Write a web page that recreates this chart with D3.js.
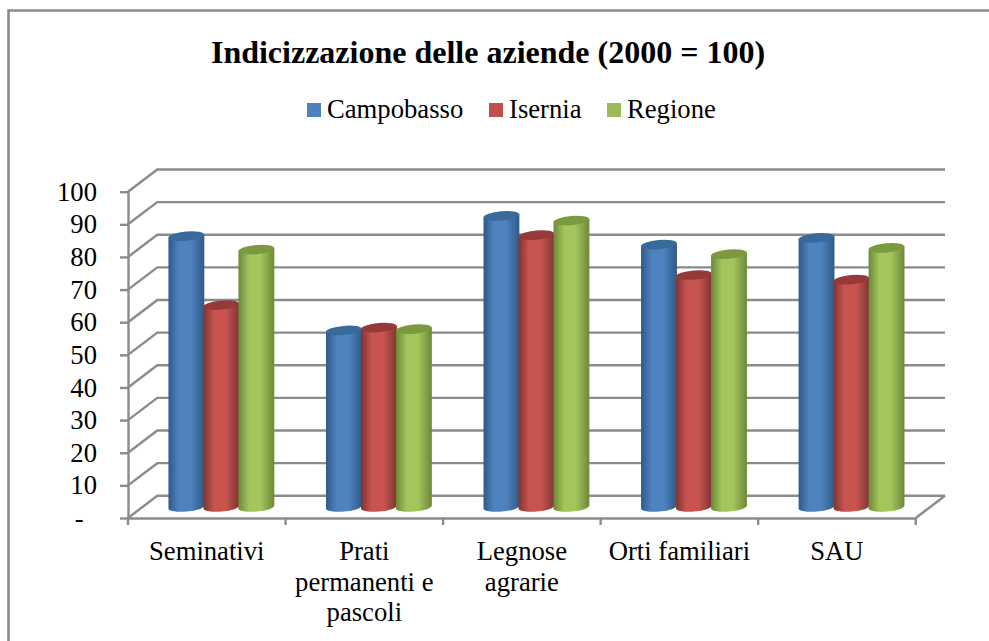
<!DOCTYPE html>
<html>
<head>
<meta charset="utf-8">
<script src="https://cdnjs.cloudflare.com/ajax/libs/d3/7.8.5/d3.min.js"></script>
<style>
  html, body { margin: 0; padding: 0; background: #fff; }
  svg { display: block; }
  text { font-family: "Liberation Serif", serif; fill: #000; }
</style>
</head>
<body>
<svg id="chart" width="989" height="641"></svg>
<script>
// Values
const categories = ["Seminativi", "Prati permanenti e pascoli", "Legnose agrarie", "Orti familiari", "SAU"];
const categoryLines = [["Seminativi"], ["Prati", "permanenti e", "pascoli"], ["Legnose", "agrarie"], ["Orti familiari"], ["SAU"]];
const seriesNames = ["Campobasso", "Isernia", "Regione"];
const campobasso = [83.0, 54.1, 89.2, 80.4, 82.5];
const isernia = [61.9, 55.0, 83.3, 71.1, 69.7];
const regione = [78.9, 54.5, 87.8, 77.5, 79.4];
const seriesValues = [campobasso, isernia, regione];
const yTicks = [0, 10, 20, 30, 40, 50, 60, 70, 80, 90, 100];
const seriesColors = [
  { edge: "#2f5a88", mid: "#4f83c0", top: "#386a9c", key: "#4f81bd" },
  { edge: "#7f3533", mid: "#c9544f", top: "#953a38", key: "#c0504d" },
  { edge: "#6d8839", mid: "#a2c55c", top: "#7b9a40", key: "#9bbb59" }
];

const svg = d3.select("#chart");
const GRID = "#8b8b8b";

// plot box: front plane plus the shift to the back wall
const front = { left: 128, right: 915.7, top: 191.7, bottom: 518 };
const depth = { x: 29.3, y: -22.2 };
const barShift = { x: 14.6, y: -11 };
const barW = 36;

const y = d3.scaleLinear().domain([0, 100]).range([front.bottom, front.top]);
const x = d3.scaleBand().domain(categories).range([front.left, front.right]);
const xSeries = d3.scaleBand().domain(seriesNames).range([-52.5, 52.5]);

// chart frame, cut off by the picture on the right and at the bottom
svg.append("path")
  .attr("d", "M8.5,641V10.5H989")
  .attr("fill", "none")
  .attr("stroke", GRID)
  .attr("stroke-width", 2.6);

svg.append("text")
  .attr("x", 488)
  .attr("y", 63)
  .attr("text-anchor", "middle")
  .style("font-size", "32px")
  .style("font-weight", "bold")
  .text("Indicizzazione delle aziende (2000 = 100)");

// legend
const legendSwatch = [307, 489, 607];
const legend = svg.append("g").selectAll("g")
  .data(seriesNames)
  .join("g")
  .attr("transform", (d, i) => `translate(${legendSwatch[i]},103)`);
legend.append("rect")
  .attr("width", 14)
  .attr("height", 14)
  .attr("fill", (d, i) => seriesColors[i].key);
legend.append("text")
  .attr("x", 20)
  .attr("y", 15)
  .style("font-size", "26.67px")
  .text(d => d);

// gradients for the cylinders
const defs = svg.append("defs");
seriesColors.forEach((c, i) => {
  const g = defs.append("linearGradient").attr("id", "cyl" + i);
  g.append("stop").attr("offset", "0%").attr("stop-color", c.edge);
  g.append("stop").attr("offset", "30%").attr("stop-color", c.mid);
  g.append("stop").attr("offset", "62%").attr("stop-color", c.mid);
  g.append("stop").attr("offset", "100%").attr("stop-color", c.edge);
});

// walls and floor
const gridG = svg.append("g")
  .attr("fill", "none")
  .attr("stroke", GRID)
  .attr("stroke-width", 2.4);
gridG.selectAll("path.wall")
  .data(yTicks)
  .join("path")
  .attr("class", "wall")
  .attr("d", d => `M${front.left},${y(d)}L${front.left + depth.x},${y(d) + depth.y}H${front.right + depth.x}`);
gridG.append("path")
  .attr("d", `M${front.right},${front.bottom}L${front.right + depth.x},${front.bottom + depth.y}`);

// value axis
const yAxis = d3.axisLeft(y)
  .tickValues(yTicks)
  .tickSize(8)
  .tickSizeOuter(0)
  .tickPadding(23)
  .tickFormat(d => d === 0 ? "-\u00a0\u00a0" : d);
const yG = svg.append("g")
  .attr("transform", `translate(${front.left},0)`)
  .call(yAxis);
yG.selectAll("line, path").attr("stroke", GRID).attr("stroke-width", 2.4);
yG.selectAll("text")
  .attr("font-family", null)
  .style("font-size", "26.67px");

// category axis: ticks sit on the band borders, labels in the middle
const xAxis = d3.axisBottom(x).tickSize(0).tickPadding(0).tickFormat("");
const xG = svg.append("g")
  .attr("transform", `translate(0,${front.bottom})`)
  .call(xAxis);
xG.select("path").attr("stroke", GRID).attr("stroke-width", 2.4);
xG.selectAll("line.border")
  .data(d3.range(categories.length + 1))
  .join("line")
  .attr("class", "border")
  .attr("x1", i => front.left + i * x.step())
  .attr("x2", i => front.left + i * x.step())
  .attr("y2", 7)
  .attr("stroke", GRID)
  .attr("stroke-width", 2.4);

const catLabel = svg.append("g").selectAll("text")
  .data(categories)
  .join("text")
  .attr("text-anchor", "middle")
  .attr("y", 560)
  .style("font-size", "26.67px");
catLabel.selectAll("tspan")
  .data((d, i) => categoryLines[i].map(t => ({ t, c: d })))
  .join("tspan")
  .attr("x", d => x(d.c) + x.bandwidth() / 2)
  .attr("dy", (d, i) => i === 0 ? 0 : 30.6)
  .text(d => d.t);

// cylinders
const rx = barW / 2, ry = 4.6, tilt = -5;
const tx = rx * Math.cos(tilt * Math.PI / 180), ty = rx * Math.sin(tilt * Math.PI / 180);
const base = y(0) + barShift.y;

const groups = svg.append("g").selectAll("g")
  .data(categories)
  .join("g")
  .attr("transform", d => `translate(${x(d) + x.bandwidth() / 2 + barShift.x},0)`);

seriesNames.forEach((name, s) => {
  const bar = groups.append("g")
    .attr("transform", `translate(${xSeries(name) + xSeries.bandwidth() / 2},0)`);
  bar.append("path")
    .attr("fill", `url(#cyl${s})`)
    .attr("d", (d, i) => {
      const top = y(seriesValues[s][i]) + barShift.y;
      return `M${-tx},${top - ty}L${-tx},${base - ty}` +
        `A${rx},${ry} ${tilt} 0 0 ${tx},${base + ty}` +
        `L${tx},${top + ty}Z`;
    });
  bar.append("ellipse")
    .attr("rx", rx)
    .attr("ry", ry)
    .attr("fill", seriesColors[s].top)
    .attr("transform", (d, i) => `translate(0,${y(seriesValues[s][i]) + barShift.y}) rotate(${tilt})`);
});
</script>
</body>
</html>
